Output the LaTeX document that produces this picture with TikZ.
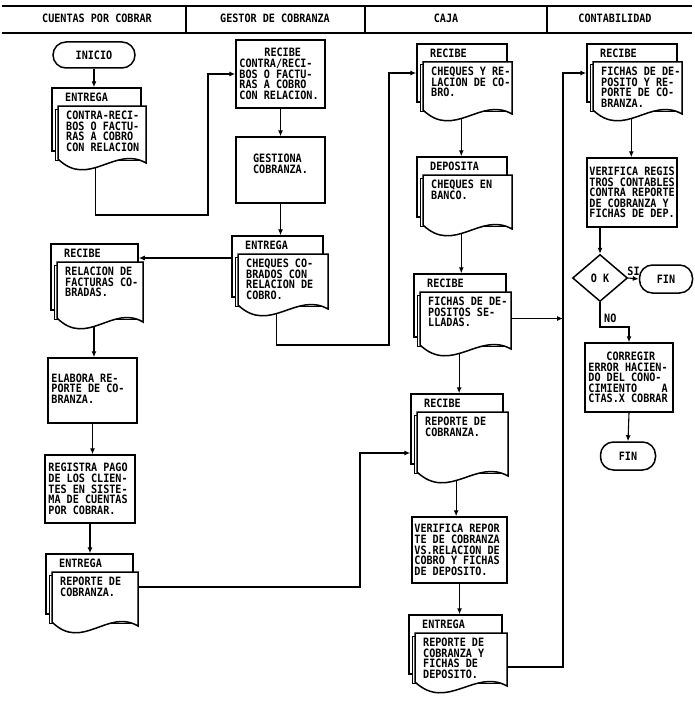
\documentclass[tikz,border=0pt]{standalone}
\usepackage{fontspec}
\newfontfamily\dm[FakeStretch=0.88]{DejaVu Sans Mono}
\newcommand\flowfont{\dm\bfseries\fontsize{11.5}{10.6}\selectfont}
\usetikzlibrary{arrows.meta,shapes.geometric,fit,calc}
\tikzset{
  shp/.style={line width=1.5pt, line join=miter},
  arr/.style={line width=1.1pt, -{Latex[length=6pt,width=5pt]}},
  ln/.style={line width=1.2pt},
  txt/.style={font=\flowfont, align=left, inner sep=0pt},
  box/.style={shp, draw, fill=white, inner sep=0pt},
  term/.style={shp, draw, fill=white, rounded corners=13pt, inner sep=0pt, font=\flowfont},
}
% multi-document: name, L, T, R, B (front page), label, text
\newcommand\docm[7]{%
  \node[box, fit={(#2-6,#3-18) (#4-5,#5-8)}] (#1) {};
  \draw[line width=1pt, fill=white] (#2-3,#3+3) rectangle (#4-3,#5+1);
  \node[fit={(#2,#3) (#4,#5)}, inner sep=0pt] (#1f) {};
  \draw[shp, fill=white] (#2,#5) -- (#2,#3) -- (#4,#3) -- (#4,#5+4)
     .. controls ({#4-0.35*(#4-#2)},#5-14) and ({#2+0.35*(#4-#2)},#5+30) .. (#2,#5) -- cycle;
  \coordinate (#1o) at ({#2+0.43*(#4-#2)},#5+8.5);
  \node[txt, anchor=west] (#1l) at (#2+7,#3-9) {#6};
  \node[txt, anchor=north west] (#1t) at (#2+8,#3+5) {#7};
}
\begin{document}
\begin{tikzpicture}[x=1pt,y=-1pt]
\useasboundingbox (0,0) rectangle (694,701);
% header
\draw[ln] (2,6) -- (692,6);
\draw[ln] (2,33) -- (692,33);
\draw[ln] (186,6) -- (186,33);
\draw[ln] (365,6) -- (365,33);
\draw[ln] (547,6) -- (547,33);
\node[txt] (h1) at (97,18) {CUENTAS POR COBRAR};
\node[txt] (h2) at (275,18) {GESTOR DE COBRANZA};
\node[txt] (h3) at (446,18) {CAJA};
\node[txt] (h4) at (615,18) {CONTABILIDAD};

% column 1
\node[term, minimum width=82pt, minimum height=26pt] (ini) at (94,55) {INICIO};
\docm{da}{58}{106}{146}{159}{ENTREGA}{CONTRA-RECI-\\BOS O FACTU-\\RAS A COBRO\\CON RELACION}
\docm{db}{57}{262}{143}{318}{RECIBE}{RELACION DE\\FACTURAS CO-\\BRADAS.}
\node[box, fit={(48,358) (137,423)}] (b3) {};
\node[txt, anchor=west] (b3t) at ([xshift=4pt,yshift=2pt]b3.west) {ELABORA RE-\\PORTE DE CO-\\BRANZA.};
\node[box, fit={(45,455) (135,523)}] (b4) {};
\node[txt, anchor=west] (b4t) at ([xshift=4pt]b4.west) {REGISTRA PAGO\\DE LOS CLIEN-\\TES EN SISTE-\\MA DE CUENTAS\\POR COBRAR.};
\docm{dc}{52}{572}{138}{622}{ENTREGA}{REPORTE DE\\COBRANZA.}

% column 2
\node[box, fit={(236,40) (325,108)}] (b1) {};
\node[txt, anchor=west] (b1t) at ([xshift=4pt]b1.west) {\hspace*{25pt}RECIBE\\CONTRA/RECI-\\BOS O FACTU-\\RAS A COBRO\\CON RELACION.};
\node[box, fit={(236,137) (325,203)}] (b2) {};
\node[txt] (b2t) at ([yshift=6pt]b2.center) {GESTIONA\\COBRANZA.};
\docm{dd}{238}{254}{328}{305}{ENTREGA}{CHEQUES CO-\\BRADOS CON\\RELACION DE\\COBRO.}

% column 3
\docm{de}{423}{62}{512}{110}{RECIBE}{CHEQUES Y RE-\\LACION DE CO-\\BRO.}
\docm{df}{423}{175}{512}{225}{DEPOSITA}{CHEQUES EN\\BANCO.}
\docm{dg}{420}{292}{511}{345}{RECIBE}{FICHAS DE DE-\\POSITOS SE-\\LLADAS.}
\docm{dh}{417}{412}{508}{472}{RECIBE}{REPORTE DE\\COBRANZA.}
\node[box, fit={(412,517) (507,583)}] (b5) {};
\node[txt, anchor=west] (b5t) at ([xshift=3pt]b5.west) {VERIFICA REPOR\\TE DE COBRANZA\\VS.RELACION DE\\COBRO Y FICHAS\\DE DEPOSITO.};
\docm{di}{415}{633}{507}{682}{ENTREGA}{REPORTE DE\\COBRANZA Y\\FICHAS DE\\DEPOSITO.}

% column 4
\docm{dj}{593}{62}{682}{110}{RECIBE}{FICHAS DE DE-\\POSITO Y RE-\\PORTE DE CO-\\BRANZA.}
\node[box, fit={(587,158) (677,227)}] (b6) {};
\node[txt, anchor=west] (b6t) at ([xshift=3pt]b6.west) {VERIFICA REGIS\\TROS CONTABLES\\CONTRA REPORTE\\DE COBRANZA Y\\FICHAS DE DEP.};
\node[shp, draw, fill=white, diamond, minimum width=55pt, minimum height=47pt, inner sep=0pt, font=\flowfont] (ok) at (600,278) {O K};
\node[term, minimum width=53pt, minimum height=28pt] (fin1) at (666,279) {FIN};
\node[box, fit={(585,343) (673,412)}] (b7) {};
\node[txt, anchor=west] (b7t) at ([xshift=4pt]b7.west) {\hspace*{18pt}CORREGIR\\ERROR HACIEN-\\DO DEL CONO-\\CIMIENTO~~~~A\\CTAS.X COBRAR};
\node[term, minimum width=55pt, minimum height=28pt] (fin2) at (628,456) {FIN};

% connectors
\draw[arr] (ini.south) -- (ini.south |- da.north);
\coordinate (k1) at (208,215);
\draw[arr] (dao) |- (k1) |- (b1.west);
\draw[arr] (b1.south) -- (b2.north);
\draw[arr] (b2.south) -- (b2.south |- dd.north);
\coordinate (k2) at (0,258);
\draw[arr] (dd.west |- k2) -- (db.east |- k2);
\coordinate (k3) at (389,345);
\draw[arr] (ddo) |- (k3) |- (de.west);
\draw[arr] (dbo) -- (dbo |- b3.north);
\draw[arr] (b3.south) -- (b3.south |- b4.north);
\draw[arr] (b4.south) -- (b4.south |- dc.north);
\coordinate (k4) at (360,587);
\coordinate (k5) at (360,453);
\draw[arr] (dcf.east |- k4) -- (k4) -- (k5) -- (k5 -| dh.west);
\draw[arr] (deo) -- (deo |- df.north);
\draw[arr] (dfo) -- (dfo |- dg.north);
\coordinate (k7) at (563,667);
\coordinate (k8) at (563,73);
\draw[arr] (dgf.east) -- (dgf.east -| k7);
\draw[arr] (dgo) -- (dgo |- dh.north);
\draw[arr] (dho) -- (dho |- b5.north);
\draw[arr] (b5.south) -- (b5.south |- di.north);
\draw[arr] (dif.east |- k7) -- (k7) -- (k8) -- (k8 -| dj.west);
\draw[arr] (djo) -- (djo |- b6.north);
\draw[arr] (ok.north |- b6.south) -- (ok.north);
\draw[arr] (ok.east) -- (fin1.west) node[txt, midway, above=2pt] (si) {SI};
\coordinate (k9) at (0,327);
\draw[arr] (ok.south) -- (ok.south |- k9) -- (b7.north |- k9) -- (b7.north);
\node[txt, anchor=west] (no) at (604,318) {NO};
\draw[arr] (b7.south) -- (fin2.north);
\end{tikzpicture}
\end{document}
